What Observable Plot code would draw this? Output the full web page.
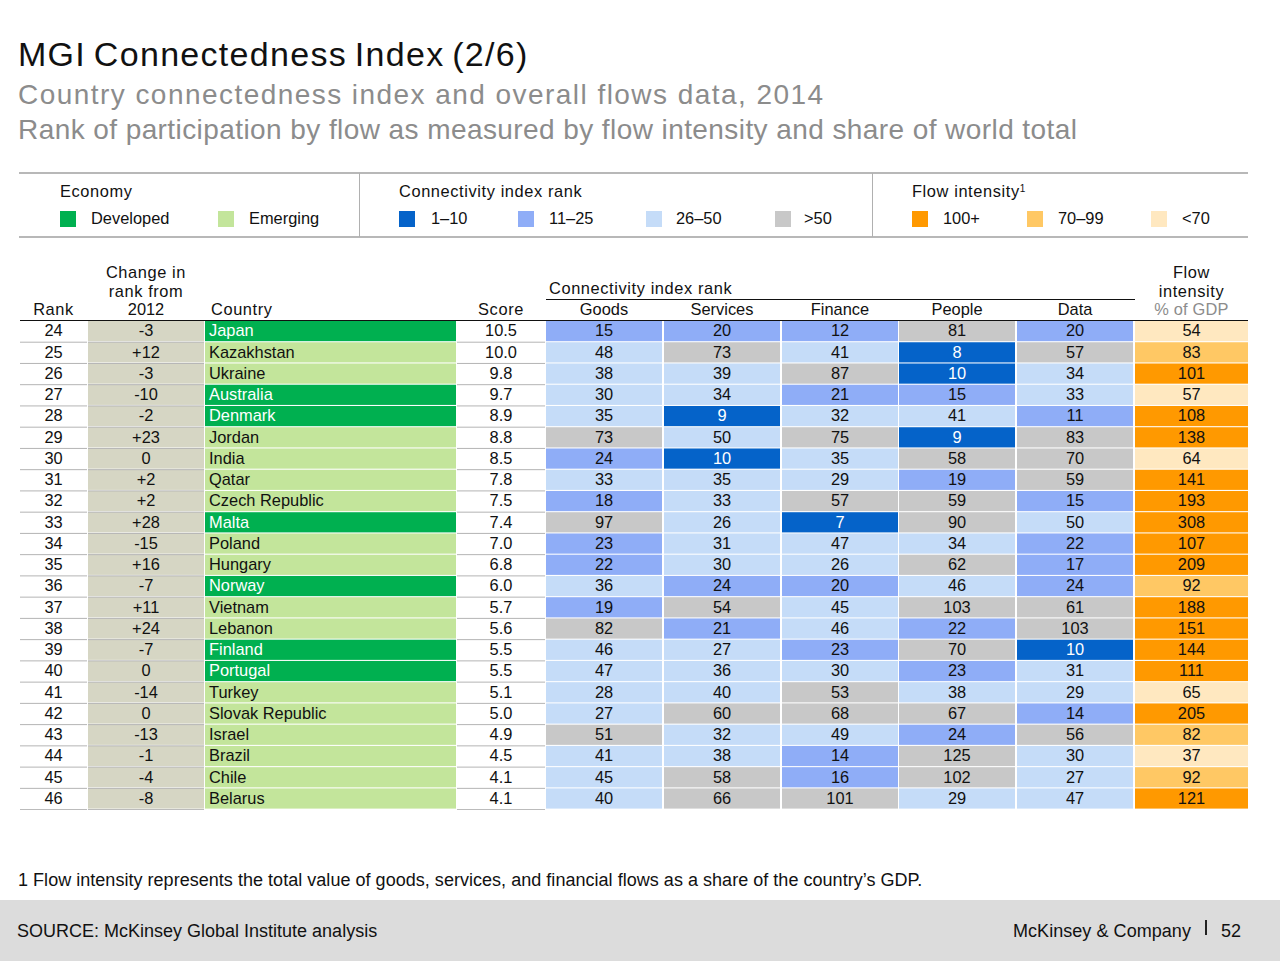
<!DOCTYPE html>
<html><head><meta charset="utf-8">
<script src="https://cdn.jsdelivr.net/npm/d3@7"></script>
<script src="https://cdn.jsdelivr.net/npm/@observablehq/plot@0.6"></script>
<style>
html,body{margin:0;padding:0;background:#fff;width:1280px;height:961px;overflow:hidden}
body{font-family:"Liberation Sans",Arial,sans-serif;color:#111;position:relative}
.t{position:absolute;white-space:nowrap;font-size:16.4px;line-height:20px}
.c{transform:translateX(-50%);text-align:center}
.sw{position:absolute;width:16px;height:16px;top:211px}
.ln{position:absolute}
.sp{letter-spacing:.6px}
#chart{position:absolute;left:0;top:320px}
#chart svg{display:block}
</style></head><body>
<div class="t" style="left:18px;top:34px;font-size:34px;line-height:40px;letter-spacing:1.3px;word-spacing:-3px;color:#111">MGI Connectedness Index (2/6)</div>
<div class="t" style="left:18px;top:77px;font-size:28px;line-height:36px;letter-spacing:1.45px;color:#8c8c8c">Country connectedness index and overall flows data, 2014</div>
<div class="t" style="left:18px;top:112px;font-size:28px;line-height:36px;letter-spacing:.42px;color:#8c8c8c">Rank of participation by flow as measured by flow intensity and share of world total</div>

<div class="ln" style="left:19px;top:172px;width:1229px;height:2px;background:#b8b8b8"></div>
<div class="ln" style="left:19px;top:236px;width:1229px;height:2px;background:#b8b8b8"></div>
<div class="ln" style="left:359px;top:173px;width:1px;height:64px;background:#b0b0b0"></div>
<div class="ln" style="left:872px;top:173px;width:1px;height:64px;background:#b0b0b0"></div>
<div id="legend"></div>
<div id="head"></div>
<div id="chart"></div>

<div class="t" style="left:18px;top:870px;font-size:18px;letter-spacing:.03px">1 Flow intensity represents the total value of goods, services, and financial flows as a share of the country’s GDP.</div>
<div class="ln" style="left:0;top:900px;width:1280px;height:61px;background:#dcdcdc"></div>
<div class="t" style="left:17px;top:921px;font-size:18px;color:#111">SOURCE: McKinsey Global Institute analysis</div>
<div class="t" style="left:1013px;top:921px;font-size:18px;letter-spacing:.05px">McKinsey &amp; Company</div>
<div class="ln" style="left:1205px;top:920px;width:1.5px;height:15px;background:#222"></div>
<div class="t" style="left:1221px;top:921px;font-size:18px">52</div>

<script>
// ---- data ----
const ranks = [24,25,26,27,28,29,30,31,32,33,34,35,36,37,38,39,40,41,42,43,44,45,46];
const changes = ["-3","+12","-3","-10","-2","+23","0","+2","+2","+28","-15","+16","-7","+11","+24","-7","0","-14","0","-13","-1","-4","-8"];
const countries = ["Japan","Kazakhstan","Ukraine","Australia","Denmark","Jordan","India","Qatar","Czech Republic","Malta","Poland","Hungary","Norway","Vietnam","Lebanon","Finland","Portugal","Turkey","Slovak Republic","Israel","Brazil","Chile","Belarus"];
const economy = ["D","E","E","D","D","E","E","E","E","D","E","E","D","E","E","D","D","E","E","E","E","E","E"];
const scores = ["10.5","10.0","9.8","9.7","8.9","8.8","8.5","7.8","7.5","7.4","7.0","6.8","6.0","5.7","5.6","5.5","5.5","5.1","5.0","4.9","4.5","4.1","4.1"];
const goods = [15,48,38,30,35,73,24,33,18,97,23,22,36,19,82,46,47,28,27,51,41,45,40];
const services = [20,73,39,34,9,50,10,35,33,26,31,30,24,54,21,27,36,40,60,32,38,58,66];
const finance = [12,41,87,21,32,75,35,29,57,7,47,26,20,45,46,23,30,53,68,49,14,16,101];
const people = [81,8,10,15,41,9,58,19,59,90,34,62,46,103,22,70,23,38,67,24,125,102,29];
const dataFlow = [20,57,34,33,11,83,70,59,15,50,22,17,24,61,103,10,31,29,14,56,30,27,47];
const intensity = [54,83,101,57,108,138,64,141,193,308,107,209,92,188,151,144,111,65,205,82,37,92,121];
const flowNames = ["Goods","Services","Finance","People","Data"];
const flowSeries = [goods,services,finance,people,dataFlow];

// ---- colour categories ----
const catLabels = ["Developed","Emerging","1–10","11–25","26–50",">50","100+","70–99","<70"];
const catColors = ["#00b050","#c3e59b","#0563c9","#8fadf7","#c5dcf8","#c8c8c8","#ff9900","#ffc864","#ffe8c0"];
const changeBg = "#d6d6c4";
const colorOf = Object.fromEntries(catLabels.map((k,i)=>[k,catColors[i]]));
const rankCat = v => v<=10?"1–10":v<=25?"11–25":v<=50?"26–50":">50";
const flowCat = v => v>=100?"100+":v>=70?"70–99":"<70";

// ---- table layout (column edges in page pixels) ----
const layout = {
  rank:[20,87], change:[88,204], country:[205,456], score:[457,545],
  Goods:[546,662], Services:[664,780], Finance:[782,898], People:[899,1015], Data:[1017,1133], flow:[1135,1248]
};
const hmid = k => (layout[k][0]+layout[k][1])/2;
const mid = k => hmid(k) - 0.5;

// ---- legend and header (HTML above the SVG) ----
const legendItems = [
 ["Developed",60,91],["Emerging",218,249],["1–10",399,431],["11–25",518,549],["26–50",646,676],[">50",775,804],
 ["100+",912,943],["70–99",1027,1058],["<70",1151,1182]];
const lg = document.getElementById("legend");
function addText(host,txt,left,top,cls="",style=""){
  const d=document.createElement("div");d.className="t "+cls;d.textContent=txt;
  d.style.cssText=`left:${left}px;top:${top}px;`+style;host.appendChild(d);return d;
}
addText(lg,"Economy",60,181,"sp");
addText(lg,"Connectivity index rank",399,181,"sp");
const fi=addText(lg,"Flow intensity",912,181,"sp");
const sup=document.createElement("sup");sup.textContent="1";sup.style.cssText="font-size:10px;line-height:0;vertical-align:5px";fi.appendChild(sup);
for(const [lab,sx,tx] of legendItems){
  const s=document.createElement("div");s.className="sw";s.style.left=sx+"px";s.style.background=colorOf[lab];lg.appendChild(s);
  addText(lg,lab,tx,208);
}
const hd=document.getElementById("head");
addText(hd,"Rank",hmid("rank"),299,"c sp");
addText(hd,"Change in",hmid("change"),262,"c sp");
addText(hd,"rank from",hmid("change"),281,"c sp");
addText(hd,"2012",hmid("change"),299,"c");
addText(hd,"Country",211,299,"sp");
addText(hd,"Score",hmid("score"),299,"c sp");
addText(hd,"Connectivity index rank",549,278,"sp");
for(const n of flowNames) addText(hd,n,hmid(n),299,"c");
addText(hd,"Flow",hmid("flow"),262,"c sp");
addText(hd,"intensity",hmid("flow"),281,"c sp");
addText(hd,"% of GDP",hmid("flow"),299,"c","letter-spacing:.2px;color:#8c8c8c");
const rule=(l,t,w,h,c)=>{const d=document.createElement("div");d.className="ln";d.style.cssText=`left:${l}px;top:${t}px;width:${w}px;height:${h}px;background:${c}`;hd.appendChild(d);};
rule(546,299,589,1,"#111");
rule(20,320,1228,1,"#111");

// ---- long-form tables built from the arrays ----
const rows = ranks.map((r,i)=>({rank:r,change:changes[i],country:countries[i],cat:economy[i]==="D"?"Developed":"Emerging",score:scores[i],flow:intensity[i]}));
const cells = ranks.flatMap((r,i)=>flowNames.map((n,j)=>({rank:r,col:n,value:flowSeries[j][i],cat:rankCat(flowSeries[j][i])})));
const flowCells = rows.map(d=>({rank:d.rank,col:"flow",value:d.flow,cat:flowCat(d.flow)}));
const allCells = cells.concat(flowCells);
const ruleCols = ["rank","change","score"];
const gapRules = ranks.flatMap(r=>ruleCols.map(c=>({rank:r,col:c})));
const font = {fontSize:16.4,fontFamily:"Liberation Sans, Arial, sans-serif",dy:-0.4};

const chart = Plot.plot({
  width:1280,height:490,marginTop:0,marginRight:0,marginBottom:0,marginLeft:0,
  style:{background:"transparent"},
  x:{type:"linear",domain:[0,1280],range:[0,1280],axis:null},
  y:{type:"band",domain:ranks,range:[1,488.6],paddingInner:0.05,paddingOuter:0,round:false,axis:null},
  color:{type:"categorical",domain:catLabels,range:catColors},
  marks:[
    Plot.barX(ranks,{y:d=>d,x1:layout.change[0],x2:layout.change[1],fill:changeBg}),
    Plot.ruleY(gapRules,{y:"rank",x1:d=>layout[d.col][0],x2:d=>layout[d.col][1],dy:10.6,stroke:"#b4b4b4",strokeWidth:1}),
    Plot.barX(rows,{y:"rank",x1:layout.country[0],x2:layout.country[1],fill:"cat"}),
    Plot.barX(allCells,{y:"rank",x1:d=>layout[d.col][0],x2:d=>layout[d.col][1],fill:"cat"}),
    Plot.text(rows,{y:"rank",x:mid("rank"),text:d=>String(d.rank),fill:"#111",...font}),
    Plot.text(rows,{y:"rank",x:mid("change"),text:"change",fill:"#111",...font}),
    Plot.text(rows.filter(d=>d.cat!=="Developed"),{y:"rank",x:208.5,text:"country",textAnchor:"start",fill:"#111",...font}),
    Plot.text(rows.filter(d=>d.cat==="Developed"),{y:"rank",x:208.5,text:"country",textAnchor:"start",fill:"#fff",...font}),
    Plot.text(rows,{y:"rank",x:mid("score"),text:"score",fill:"#111",...font}),
    Plot.text(allCells.filter(d=>d.cat!=="1–10"),{y:"rank",x:d=>mid(d.col),text:d=>String(d.value),fill:"#111",...font}),
    Plot.text(allCells.filter(d=>d.cat==="1–10"),{y:"rank",x:d=>mid(d.col),text:d=>String(d.value),fill:"#fff",...font})
  ]
});
document.getElementById("chart").appendChild(chart);
</script>
</body></html>
